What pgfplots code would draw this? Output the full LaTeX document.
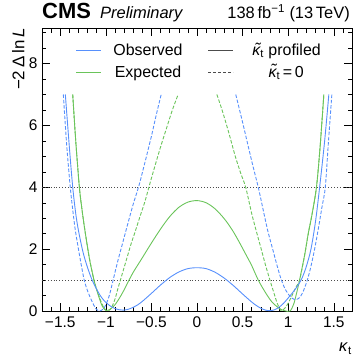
\documentclass[border=0pt]{standalone}
\usepackage{fontspec}
\setmainfont{Liberation Sans}
\usepackage{pgfplots}
\pgfplotsset{compat=1.18}
\definecolor{cmsblue}{RGB}{87,144,252}
\definecolor{cmsgreen}{RGB}{106,196,90}
% kappa with a tilde centred over it
\newcommand{\kt}{\textit{\ooalign{κ\cr\hidewidth\raisebox{0.08em}{\kern0.12em\char"02DC}\hidewidth\cr}}\textsubscript{t}}
\begin{document}
\begin{tikzpicture}
\begin{axis}[
  width=310bp, height=283bp, scale only axis,
  xmin=-1.7, xmax=1.7, ymin=0, ymax=9.15,
  xtick={-1.5,-1,-0.5,0,0.5,1,1.5},
  xticklabels={−1.5,−1,−0.5,0,0.5,1,1.5},
  ytick={0,2,4,6,8},
  minor xtick={-1.7,-1.6,...,1.7},
  minor ytick={0.5,1,...,9},
  tick align=inside,
  major tick length=8bp, minor tick length=4.5bp,
  tick style={black, line width=0.5bp},
  axis line style={line width=0.9bp},
  /pgf/number format/assume math mode=true,
  ticklabel style={font=\fontsize{15.5}{18}\selectfont},
  xticklabel style={yshift=-2bp},
  yticklabel style={xshift=-1bp},
  legend columns=2,
  legend image code/.code={\draw[#1] (0bp,0bp) -- (25bp,0bp);},
  legend style={draw=none, fill=none, at={(0.098,0.952)}, anchor=north west,
    font=\fontsize{16}{19}\selectfont, row sep=9bp,
    nodes={inner sep=0pt},
    /tikz/every odd column/.append style={column sep=12bp},
    /tikz/every even column/.append style={column sep=25bp}},
  every axis plot/.append style={line width=0.9bp, smooth},
]
\coordinate (tl) at (rel axis cs:0,1);
\coordinate (tr) at (rel axis cs:1,1);
\coordinate (bl) at (rel axis cs:0,0);
\coordinate (br) at (rel axis cs:1,0);

\addlegendimage{cmsblue, line width=0.9bp}
\addlegendentry{Observed}
\addlegendimage{black!70, line width=0.9bp}
\addlegendentry{\hspace{7bp}\kt\ profiled}
\addlegendimage{cmsgreen, line width=0.9bp}
\addlegendentry{Expected}
\addlegendimage{black!70, line width=0.9bp, dash pattern=on 3bp off 2bp}
\addlegendentry{\hspace{6bp}\kt\,=\,0}

% reference levels
\addplot[gray!60!black, dotted, line width=0.6bp, forget plot, sharp plot] coordinates {(-1.7,1) (1.7,1)};
\addplot[gray!60!black, dotted, line width=0.6bp, forget plot, sharp plot] coordinates {(-1.7,4) (1.7,4)};

% expected, kappa-tilde profiled
\addplot[cmsgreen, forget plot] coordinates {
 (-1.363,7.0) (-1.33,5.5) (-1.29,4.0) (-1.26,3.25) (-1.23,2.62) (-1.18,1.7)
 (-1.13,1.0) (-1.1,0.68) (-1.07,0.4) (-1.04,0.16) (-1.0,0.02) (-0.95,0.06)
 (-0.9,0.2) (-0.85,0.42) (-0.8,0.68) (-0.745,1.0) (-0.7,1.25) (-0.6,1.72)
 (-0.51,2.15) (-0.4,2.65) (-0.3,3.05) (-0.2,3.35) (-0.1,3.52) (0,3.57)
 (0.1,3.5) (0.2,3.3) (0.3,2.98) (0.38,2.65) (0.45,2.3) (0.55,1.75) (0.6,1.47)
 (0.672,1.0) (0.75,0.6) (0.82,0.3) (0.9,0.09) (0.96,0.01) (1.02,0.0)
 (1.06,0.22) (1.09,0.55) (1.125,1.0) (1.18,1.8) (1.22,2.5) (1.26,3.1)
 (1.31,4.0) (1.35,5.3) (1.391,7.0)};

% expected, kappa-tilde = 0
\addplot[cmsgreen, dash pattern=on 3.5bp off 1.8bp, forget plot] coordinates {
 (-1.363,7.0) (-1.33,5.5) (-1.29,4.0) (-1.26,3.25) (-1.23,2.62) (-1.18,1.7)
 (-1.13,1.0) (-1.1,0.7) (-1.06,0.36) (-1.02,0.1) (-0.98,0.0) (-0.94,0.1)
 (-0.9,0.38) (-0.87,0.7) (-0.84,1.0) (-0.8,1.4) (-0.76,1.8) (-0.72,2.2)
 (-0.68,2.55) (-0.62,3.1) (-0.57,3.55) (-0.528,4.0) (-0.47,4.6) (-0.4,5.3)
 (-0.33,5.95) (-0.27,6.5) (-0.207,7.0)};
\addplot[cmsgreen, dash pattern=on 3.5bp off 1.8bp, forget plot] coordinates {
 (0.218,7.0) (0.28,6.45) (0.35,5.75) (0.42,5.0) (0.48,4.45) (0.534,4.0)
 (0.6,3.15) (0.647,2.62) (0.7,2.05) (0.75,1.5) (0.8,1.0) (0.84,0.62)
 (0.88,0.25) (0.92,0.02) (0.96,0.08) (1.0,0.25) (1.05,0.55) (1.09,0.8)
 (1.125,1.0) (1.18,1.8) (1.22,2.5) (1.26,3.1) (1.31,4.0) (1.35,5.3) (1.391,7.0)};

% observed, kappa-tilde profiled
\addplot[cmsblue, forget plot] coordinates {
 (-1.444,7.0) (-1.4,5.3) (-1.363,4.0) (-1.33,3.15) (-1.3,2.6) (-1.25,1.9)
 (-1.2,1.4) (-1.15,1.0) (-1.1,0.7) (-1.05,0.45) (-1.0,0.28) (-0.95,0.16)
 (-0.9,0.08) (-0.85,0.04) (-0.8,0.03) (-0.75,0.06) (-0.7,0.12) (-0.65,0.2)
 (-0.6,0.31) (-0.5,0.57) (-0.4,0.84) (-0.3,1.08) (-0.2,1.26) (-0.1,1.37)
 (0,1.4) (0.1,1.37) (0.2,1.25) (0.3,1.06) (0.4,0.82) (0.5,0.55) (0.6,0.29)
 (0.65,0.18) (0.7,0.09) (0.75,0.03) (0.8,0.01) (0.85,0.04) (0.9,0.12)
 (0.95,0.25) (1.0,0.42) (1.05,0.6) (1.1,0.8) (1.15,1.05) (1.2,1.45)
 (1.25,2.0) (1.3,2.9) (1.345,4.0) (1.4,5.5) (1.446,7.0)};

% observed, kappa-tilde = 0
\addplot[cmsblue, dash pattern=on 3.5bp off 1.8bp, forget plot] coordinates {
 (-1.466,7.0) (-1.43,5.4) (-1.39,4.0) (-1.36,3.2) (-1.335,2.62) (-1.3,2.0)
 (-1.27,1.5) (-1.237,1.0) (-1.2,0.65) (-1.15,0.3) (-1.11,0.08) (-1.07,0.0)
 (-1.03,0.06) (-1.0,0.2) (-0.96,0.52) (-0.92,1.0) (-0.87,1.6) (-0.82,2.15)
 (-0.77,2.7) (-0.7,3.45) (-0.637,4.05) (-0.58,4.7) (-0.5,5.65) (-0.45,6.3)
 (-0.393,7.0)};
\addplot[cmsblue, dash pattern=on 3.5bp off 1.8bp, forget plot] coordinates {
 (0.425,7.0) (0.5,6.1) (0.6,4.85) (0.672,4.0) (0.72,3.35) (0.774,2.62)
 (0.83,2.0) (0.88,1.45) (0.92,1.05) (0.96,0.75) (1.0,0.55) (1.04,0.42)
 (1.08,0.37) (1.12,0.42) (1.16,0.6) (1.21,1.0) (1.25,1.45) (1.29,2.0)
 (1.33,2.65) (1.37,3.35) (1.407,4.0) (1.44,5.4) (1.479,7.0)};
\end{axis}

\node[anchor=base west, inner sep=0pt, font=\fontsize{22}{26}\selectfont\bfseries]
  at ([yshift=9.5bp]tl) {CMS};
\node[anchor=base west, inner sep=0pt, font=\fontsize{16.5}{20}\selectfont\itshape]
  at ([xshift=58bp,yshift=9.5bp]tl) {Preliminary};
\node[anchor=base east, inner sep=0pt, font=\fontsize{16.5}{20}\selectfont]
  at ([xshift=-2bp,yshift=9.5bp]tr) {138\,fb\textsuperscript{−1} (13\,TeV)};
\node[rotate=90, anchor=north east, inner sep=0pt, font=\fontsize{17}{20}\selectfont]
  at ([xshift=-30bp]tl) {−2\,Δ\,ln\,\textit{L}};
\node[anchor=north east, inner sep=0pt, font=\fontsize{16.5}{20}\selectfont]
  at ([yshift=-32bp]br) {\textit{κ}\textsubscript{t}};

\pgfresetboundingbox
\path[use as bounding box] ([shift={(-42bp,-45bp)}]bl) rectangle ([shift={(5bp,28bp)}]tr);
\end{tikzpicture}
\end{document}
